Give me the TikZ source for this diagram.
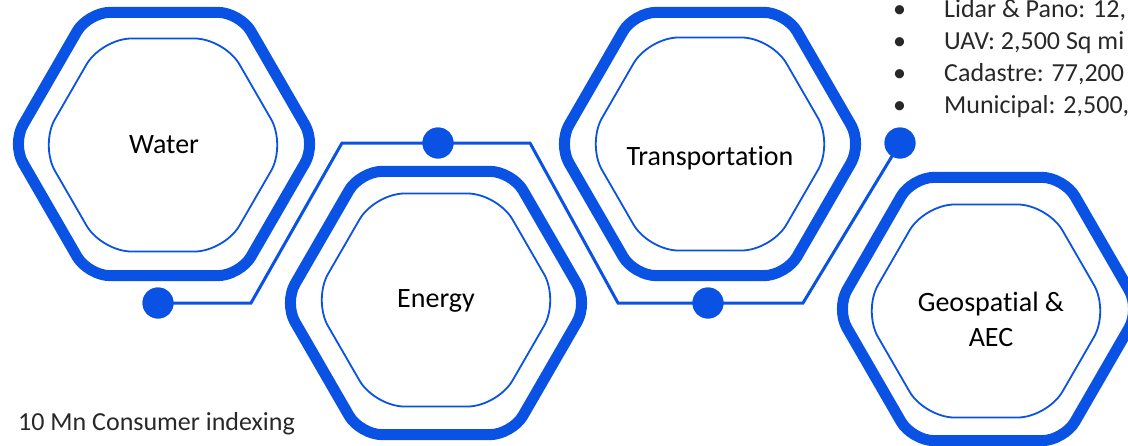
\documentclass[tikz,border=0pt]{standalone}
\usepackage{fontspec}
\setmainfont{Carlito}[RawFeature = -liga]
\usetikzlibrary{shapes.geometric}
\definecolor{hexblue}{RGB}{10,82,228}
\definecolor{listgray}{RGB}{40,40,40}

\begin{document}
\begin{tikzpicture}[x = 1pt, y = -1pt,
  outerhex/.style = {regular polygon, regular polygon sides = 6, draw = hexblue, fill = white, line width = 11pt, rounded corners = 22pt, minimum size = 304pt, inner sep = 0pt},
  innerhex/.style = {regular polygon, regular polygon sides = 6, draw = hexblue, line width = 1.8pt, rounded corners = 30pt, minimum size = 246pt, inner sep = 0pt},
  hexlabel/.style = {font = \fontsize{28}{35}\selectfont, align = center, inner sep = 0pt},
  linkdot/.style = {circle, fill = hexblue, minimum size = 31pt, inner sep = 0pt},
  link/.style = {draw = hexblue, line width = 3pt},
  listitem/.style = {anchor = base west, inner sep = 0pt, text = listgray, font = \fontsize{26}{31}\selectfont}]
\useasboundingbox (0,0) rectangle (1128,445);
\clip (0,0) rectangle (1128,445);

% connector with its bends
\coordinate (b1) at (251,303);
\coordinate (b2) at (342,143);
\coordinate (b3) at (530,143);
\coordinate (b4) at (618,303);
\coordinate (b5) at (803,303);
\node[linkdot] (d1) at (158,303) {};
\node[linkdot] (d2) at (438,143) {};
\node[linkdot] (d3) at (708,303) {};
\node[linkdot] (d4) at (900,143) {};
\draw[link] (d1.center) -- (b1) -- (b2) -- (d2.center) -- (b3) -- (b4) -- (d3.center) -- (b5) -- (d4.center);
\foreach \d in {d1,d2,d3,d4} \node[linkdot] at (\d) {};

% hexagons
\node[outerhex] (water) at (164,144) {};
\node[innerhex] (waterin) at (163,145) {};
\node[hexlabel] (waterlbl) at (164,145) {Water};

\node[outerhex] (energy) at (436,303) {};
\node[innerhex] (energyin) at (436,300) {};
\node[hexlabel] (energylbl) at (436,301) {Energy};

\node[outerhex] (transport) at (710,144) {};
\node[innerhex] (transportin) at (710,144) {};
\node[hexlabel] (transportlbl) at (710,158) {Transportation};

\node[outerhex] (geo) at (988,309) {};
\node[innerhex] (geoin) at (986,311) {};
\node[hexlabel] (geolbl) at (991,319) {Geospatial \&\\AEC};

% figures
\foreach \t [count = \i] in {{Lidar \& Pano: 12,}, {UAV: 2,500 Sq mi}, {Cadastre: 77,200}, {Municipal: 2,500,}} {
  \node[listitem] (bul\i) at (893,17+32*\i-32) {\textbullet};
  \node[listitem] (item\i) at (944,17+32*\i-32) {\t};
}
\node[listitem] (consumer) at (18,430) {10 Mn Consumer indexing};

\end{tikzpicture}
\end{document}
